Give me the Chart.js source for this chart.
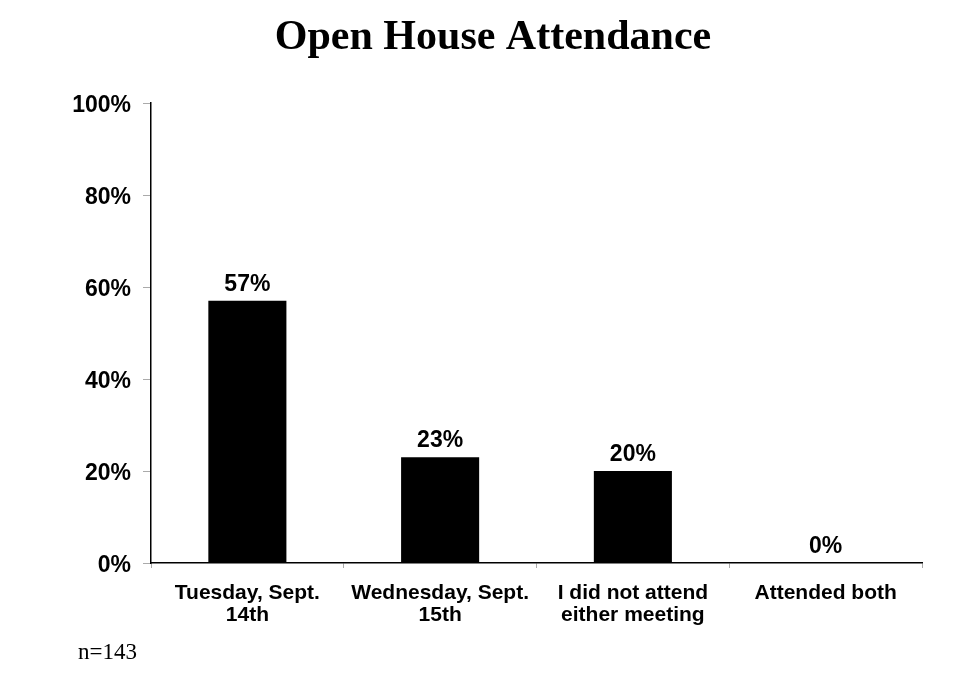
<!DOCTYPE html>
<html>
<head>
<meta charset="utf-8">
<title>Open House Attendance</title>
<script src="https://cdn.jsdelivr.net/npm/chart.js@4.4.1/dist/chart.umd.min.js"></script>
<style>
  html, body { margin: 0; padding: 0; background: #fff; }
  #wrap { width: 955px; height: 678px; position: relative; }
</style>
</head>
<body>
<div id="wrap"><canvas id="chartAsistencia"></canvas></div>
<script>
const categorias = [
    ['Tuesday, Sept.', '14th'],
    ['Wednesday, Sept.', '15th'],
    ['I did not attend', 'either meeting'],
    'Attended both'
];
const valores = [57, 23, 20, 0];
const ticksY = [0, 20, 40, 60, 80, 100];
const titulo = 'Open House Attendance';
const nota = 'n=143';

// titulo, etiquetas de datos y la nota n=
const extras = {
    id: 'extras',
    afterDraw(chart) {
        const ctx = chart.ctx;
        ctx.save();
        ctx.fillStyle = '#000';
        ctx.textAlign = 'center';
        ctx.textBaseline = 'alphabetic';
        ctx.font = 'bold 42px "Liberation Serif", "Times New Roman", serif';
        ctx.fillText(titulo, 493, 49);

        ctx.font = 'bold 23px "Liberation Sans", Arial, sans-serif';
        const meta = chart.getDatasetMeta(0);
        meta.data.forEach((bar, i) => {
            ctx.fillText(valores[i] + '%', bar.x, bar.y - 10);
        });

        ctx.textAlign = 'left';
        ctx.font = '23px "Liberation Serif", "Times New Roman", serif';
        ctx.fillText(nota, 78, 659);
        ctx.restore();
    }
};

const canvas = document.getElementById('chartAsistencia');
new Chart(canvas, {
    type: 'bar',
    data: {
        labels: categorias,
        datasets: [{
            data: valores,
            backgroundColor: '#000',
            borderWidth: 0,
            categoryPercentage: 1,
            barPercentage: 0.405
        }]
    },
    options: {
        responsive: true,
        maintainAspectRatio: false,
        animation: false,
        layout: { padding: { top: 103, right: 33, bottom: 0, left: 0 } },
        plugins: {
            legend: { display: false },
            title: { display: false },
            tooltip: { enabled: false }
        },
        scales: {
            x: {
                border: { color: '#000', width: 1.5 },
                grid: { offset: true, drawOnChartArea: false, color: '#aaa', tickLength: 5 },
                ticks: {
                    color: '#000',
                    font: { family: '"Liberation Sans", Arial, sans-serif', size: 21, weight: 'bold', lineHeight: 1.05 },
                    maxRotation: 0,
                    autoSkip: false,
                    padding: 14
                },
                afterFit(scale) { scale.height = 115; }
            },
            y: {
                min: 0,
                max: 100,
                afterBuildTicks(scale) { scale.ticks = ticksY.map(v => ({ value: v })); },
                border: { color: '#000', width: 1.5 },
                grid: { drawOnChartArea: false, color: '#aaa', tickLength: 8 },
                ticks: {
                    color: '#000',
                    font: { family: '"Liberation Sans", Arial, sans-serif', size: 23, weight: 'bold' },
                    padding: 12,
                    labelOffset: 3,
                    callback: v => v + '%'
                },
                afterFit(scale) { scale.width = 151; }
            }
        }
    },
    plugins: [extras]
});
</script>
</body>
</html>
